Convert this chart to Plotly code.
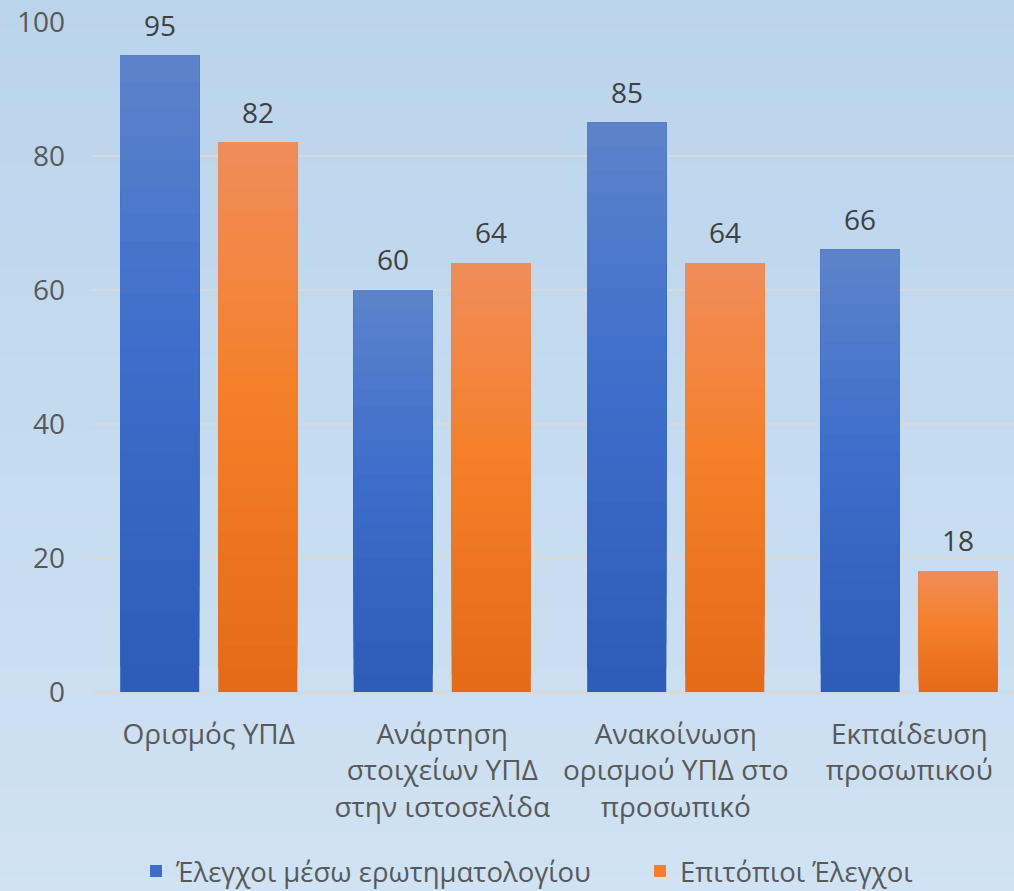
import plotly.graph_objects as go

# chart data
categories = [
    "Ορισμός ΥΠΔ",
    "Ανάρτηση<br>στοιχείων ΥΠΔ<br>στην ιστοσελίδα",
    "Ανακοίνωση<br>ορισμού ΥΠΔ στο<br>προσωπικό",
    "Εκπαίδευση<br>προσωπικού",
]
questionnaire = [95, 60, 85, 66]
onsite = [82, 64, 64, 18]
series_names = ["Έλεγχοι μέσω ερωτηματολογίου", "Επιτόπιοι Έλεγχοι"]

FONT = "Open Sans"
FS = 28
W, H = 1014, 891
M = dict(l=92, r=0, t=22, b=199, autoexpand=False)

# gradient stops (bottom -> top)
BLUE = [(0.0, (44, 92, 183)), (0.55, (62, 110, 203)), (1.0, (93, 131, 202))]
ORANGE = [(0.0, (228, 106, 24)), (0.55, (245, 127, 42)), (1.0, (240, 141, 90))]
BG = [(0.0, (208, 226, 243)), (1.0, (186, 212, 236))]


def grad(stops, t):
    for (t0, c0), (t1, c1) in zip(stops, stops[1:]):
        if t <= t1:
            u = (t - t0) / (t1 - t0)
            return "rgb(%d,%d,%d)" % tuple(round(a + (b - a) * u) for a, b in zip(c0, c1))
    return "rgb(%d,%d,%d)" % stops[-1][1]


fig = go.Figure()

N = 24
for name, vals, stops, grp, lg in [(series_names[0], questionnaire, BLUE, "a", "legend"),
                                   (series_names[1], onsite, ORANGE, "b", "legend2")]:
    for k in range(N):
        f = k / N
        fig.add_trace(go.Bar(
            x=categories, y=[v * (1 - f) for v in vals], base=[v * f for v in vals],
            offsetgroup=grp, legendgroup=grp, name=name, legend=lg,
            showlegend=(k == N // 2),
            marker=dict(color=grad(stops, (k + 0.5) / N), line=dict(width=0)),
            hoverinfo="skip" if k else None,
        ))

# value labels
for vals, dx in [(questionnaire, -49), (onsite, 49)]:
    for c, v in zip(categories, vals):
        fig.add_annotation(x=c, y=v, text=str(v), showarrow=False, xshift=dx,
                           yanchor="bottom", yshift=10,
                           font=dict(family=FONT, size=FS, color="#404040"))

# background gradient
plot_h = H - M["t"] - M["b"]
plot_w = W - M["l"] - M["r"]
y_lo, y_hi = -M["b"] / plot_h, 1 + M["t"] / plot_h
nb = 60
for i in range(nb):
    y0 = y_lo + (y_hi - y_lo) * i / nb
    y1 = y_lo + (y_hi - y_lo) * (i + 1) / nb + 0.002
    fig.add_shape(type="rect", xref="paper", yref="paper", layer="below",
                  x0=-M["l"] / plot_w, x1=1.01, y0=y0, y1=y1,
                  fillcolor=grad(BG, (i + 0.5) / nb), line=dict(width=0))

leg = dict(orientation="h", xanchor="left", yanchor="middle",
           y=-(871 - 692) / plot_h, bgcolor="rgba(0,0,0,0)", itemclick=False,
           font=dict(family=FONT, size=27.5, color="#595959"))

fig.update_layout(
    width=W, height=H, margin=M,
    paper_bgcolor="rgb(198,219,240)", plot_bgcolor="rgba(0,0,0,0)",
    font=dict(family=FONT, size=FS, color="#595959"),
    barmode="group", bargap=0.16, bargroupgap=0.194,
    showlegend=True,
    legend=dict(leg, x=(136 - 92) / plot_w),
    legend2=dict(leg, x=(640 - 92) / plot_w),
    xaxis=dict(range=[-0.5, -0.5 + plot_w / 233.5], showgrid=False, ticks="",
               ticklabelstandoff=23, tickfont=dict(size=FS, color="#595959")),
    yaxis=dict(range=[0, 100], dtick=20, gridcolor="#d9d9d9", gridwidth=2,
               zeroline=True, zerolinecolor="#d9d9d9", zerolinewidth=3,
               ticks="", ticklabelstandoff=26, tickfont=dict(size=FS, color="#595959")),
)

fig.write_html("out.html", config=dict(displayModeBar=False),
               post_script="document.body.style.margin='0';document.body.style.overflow='hidden';")
